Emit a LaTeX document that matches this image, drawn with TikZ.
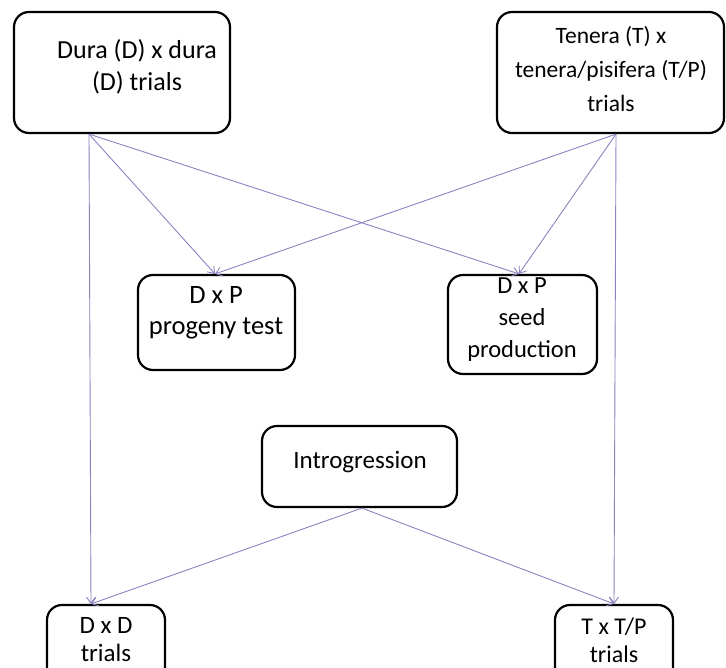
\documentclass[tikz,border=0pt]{standalone}
\usepackage{fontspec}
\setmainfont{Carlito}
\usetikzlibrary{arrows.meta}
\definecolor{arrowc}{HTML}{8C84C0}
\tikzset{
  box/.style={draw=black, line width=2.2pt, rounded corners=15pt, inner sep=0pt, fill=none},
  lbl/.style={align=center, inner sep=0pt},
  conn/.style={draw=arrowc, line width=0.9pt, -{Straight Barb[length=6pt,width=9pt]}}
}
\newcommand{\fs}[2]{\fontsize{#1}{#2}\selectfont}
\begin{document}
\begin{tikzpicture}[x=1pt,y=-1pt]
\useasboundingbox[fill=white] (0,0) rectangle (726,668);
% boxes
\node[box, minimum width=216pt, minimum height=121pt] (dura) at (122,72.5) {};
\node[box, minimum width=227pt, minimum height=121pt] (tenera) at (610.5,72.5) {};
\node[box, minimum width=157pt, minimum height=95pt] (prog) at (216.5,322.5) {};
\node[box, minimum width=149pt, minimum height=99pt] (seed) at (522.5,324.5) {};
\node[box, minimum width=195pt, minimum height=81pt] (intro) at (359.5,466.5) {};
\node[box, minimum width=118pt, minimum height=80pt] (dd) at (106,645) {};
\node[box, minimum width=118pt, minimum height=80pt] (tt) at (614,645) {};
% labels
\node[lbl, font=\fs{26}{32}] (duraT) at (137,67) {Dura (D) x dura\\(D) trials};
\node[lbl, font=\fs{23.5}{34}] (teneraT) at (611,69) {Tenera (T) x\\tenera/pisifera (T/P)\\trials};
\node[lbl, font=\fs{26.5}{31}] (progT) at (216,313) {D x P\\progeny test};
\node[lbl, font=\fs{24.5}{32}] (seedT) at (522,320) {D x P\\seed\\production};
\node[lbl, font=\fs{25}{30}] (introT) at (360,462) {Introgression};
\node[lbl, font=\fs{25}{28}] (ddT) at (106,640) {D x D\\trials};
\node[lbl, font=\fs{24}{28}] (ttT) at (614,640) {T x T/P\\trials};
% connectors
\draw[conn] ([xshift=-33pt]dura.south) -- ([xshift=-15pt]dd.north);
\draw[conn] ([xshift=-33pt]dura.south) -- ([xshift=-1.5pt]prog.north);
\draw[conn] ([xshift=-33pt]dura.south) -- ([xshift=-3.5pt]seed.north);
\draw[conn] ([xshift=5.5pt]tenera.south) -- ([xshift=0pt]tt.north);
\draw[conn] ([xshift=5.5pt]tenera.south) -- ([xshift=-1.5pt]prog.north);
\draw[conn] ([xshift=5.5pt]tenera.south) -- ([xshift=-3.5pt]seed.north);
\draw[conn] ([xshift=2.5pt]intro.south) -- ([xshift=-15pt]dd.north);
\draw[conn] ([xshift=2.5pt]intro.south) -- ([xshift=0pt]tt.north);
\end{tikzpicture}
\end{document}
